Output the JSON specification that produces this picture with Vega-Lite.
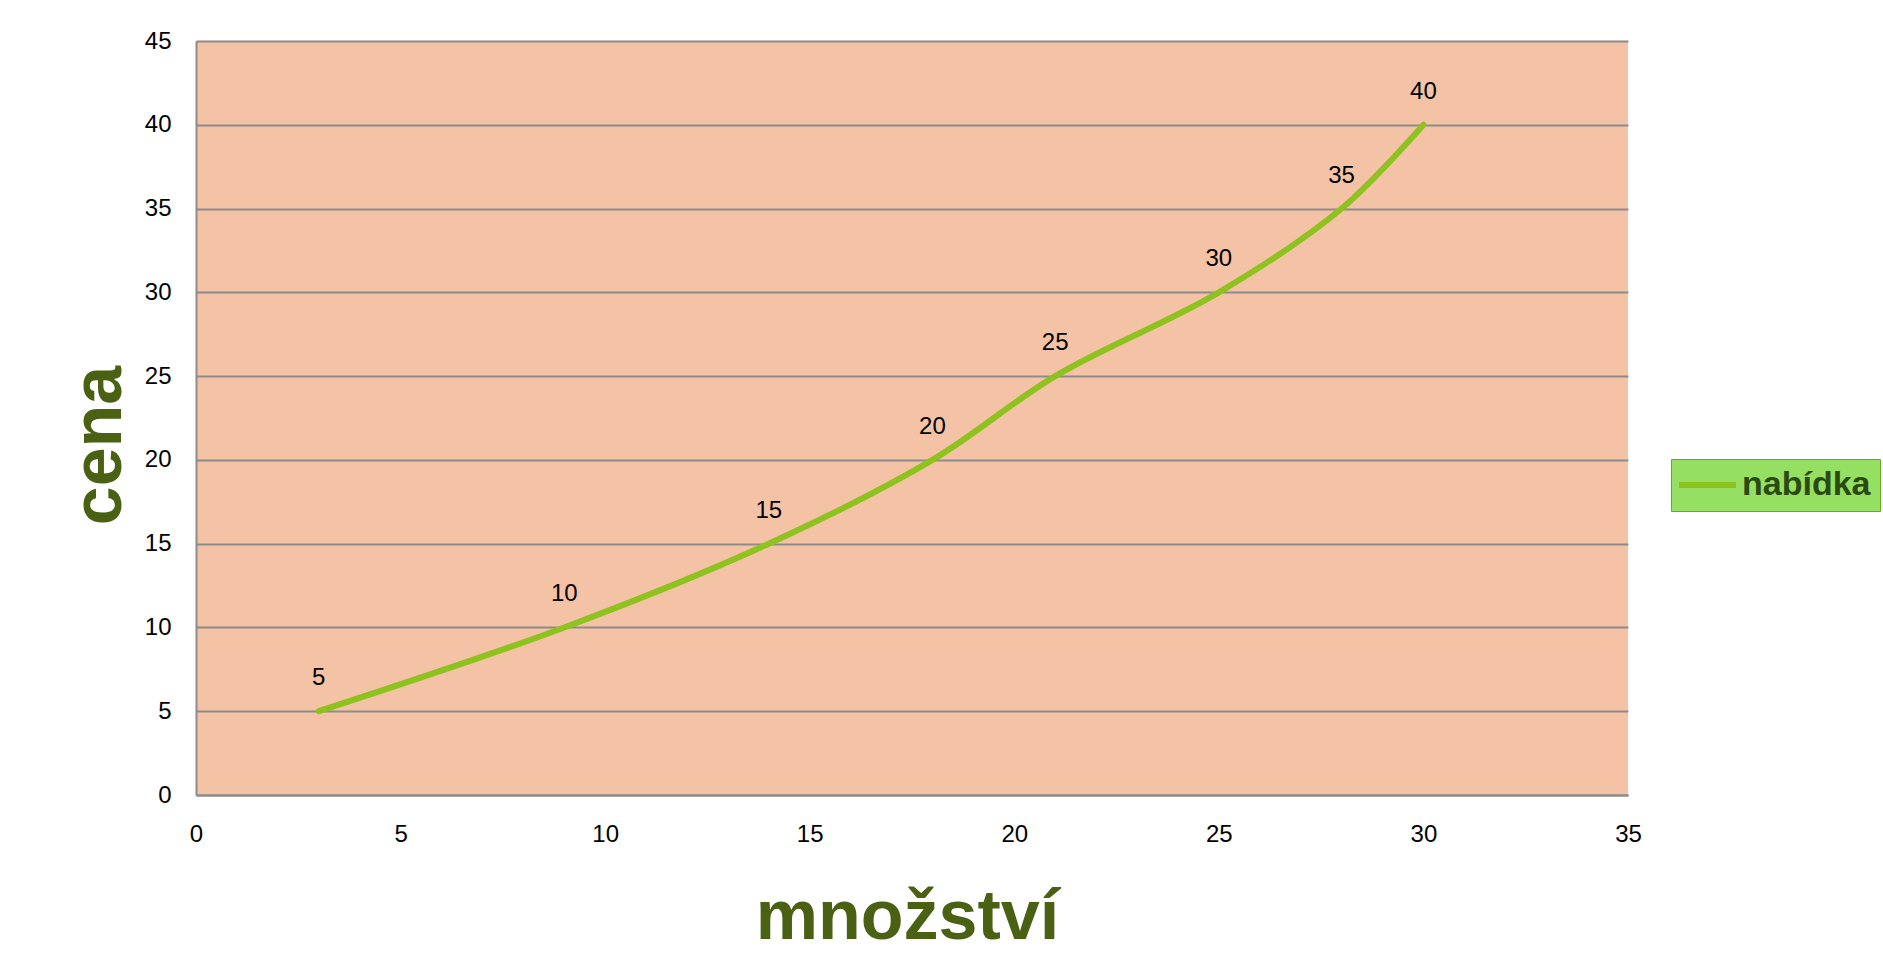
{
  "$schema": "https://vega.github.io/schema/vega-lite/v6.json",
  "autosize": {"type": "none"},
  "width": 1432,
  "height": 754,
  "padding": {"left": 196, "top": 41, "right": 255, "bottom": 177},
  "background": "#ffffff",
  "config": {
    "view": {"fill": "#f4c2a4", "stroke": null},
    "font": "Liberation Sans"
  },
  "data": {
    "values": [
      {"mnozstvi": 3, "cena": 5, "serie": "nabídka"},
      {"mnozstvi": 9, "cena": 10, "serie": "nabídka"},
      {"mnozstvi": 14, "cena": 15, "serie": "nabídka"},
      {"mnozstvi": 18, "cena": 20, "serie": "nabídka"},
      {"mnozstvi": 21, "cena": 25, "serie": "nabídka"},
      {"mnozstvi": 25, "cena": 30, "serie": "nabídka"},
      {"mnozstvi": 28, "cena": 35, "serie": "nabídka"},
      {"mnozstvi": 30, "cena": 40, "serie": "nabídka"}
    ]
  },
  "encoding": {
    "x": {
      "field": "mnozstvi", "type": "quantitative",
      "scale": {"domain": [0, 35], "nice": false, "zero": true},
      "axis": {
        "title": "množství", "values": [0, 5, 10, 15, 20, 25, 30, 35],
        "grid": false, "ticks": false, "domain": true, "domainColor": "#8c8c8c", "domainWidth": 2,
        "labelFont": "Liberation Sans", "labelFontSize": 24, "labelColor": "#000000", "labelPadding": 27,
        "labelBaseline": "top", "labelFlush": false,
        "titleFont": "Liberation Sans", "titleFontSize": 70, "titleFontWeight": "bold", "titleColor": "#4a6114",
        "titleBaseline": "alphabetic", "titleY": 143, "titleX": 711, "titleAlign": "center"
      }
    },
    "y": {
      "field": "cena", "type": "quantitative",
      "scale": {"domain": [0, 45], "nice": false},
      "axis": {
        "title": "cena", "values": [0, 5, 10, 15, 20, 25, 30, 35, 40, 45],
        "grid": true, "gridColor": "#8c8c8c", "gridWidth": 2, "gridOpacity": 1,
        "ticks": false, "domain": true, "domainColor": "#8c8c8c", "domainWidth": 2,
        "labelFont": "Liberation Sans", "labelFontSize": 24, "labelColor": "#000000", "labelPadding": 25,
        "labelFlush": false,
        "titleFont": "Liberation Sans", "titleFontSize": 70, "titleFontWeight": "bold", "titleColor": "#4a6114",
        "titleAngle": 270, "titleBaseline": "alphabetic", "titleAlign": "center", "titleX": -76, "titleY": 404
      }
    }
  },
  "layer": [
    {
      "mark": {"type": "line", "interpolate": "catmull-rom", "strokeWidth": 6, "strokeCap": "round"},
      "encoding": {
        "color": {
          "field": "serie", "type": "nominal",
          "scale": {"range": ["#8dc21f"]},
          "legend": {
            "title": null, "orient": "none", "legendX": 1475, "legendY": 418,
            "fillColor": "#95e063", "strokeColor": "#6aa82a", "padding": 9,
            "symbolType": "M-2.57,0H5.57", "symbolSize": 196, "symbolStrokeWidth": 6,
            "symbolStrokeColor": "#8dc21f", "symbolFillColor": "transparent", "symbolOffset": 0,
            "labelFont": "Liberation Sans", "labelFontSize": 34, "labelFontWeight": "bold", "labelColor": "#2b4a10",
            "labelOffset": 28, "rowPadding": 0
          }
        }
      }
    },
    {
      "mark": {"type": "text", "dy": -33, "fontSize": 24, "font": "Liberation Sans", "color": "#000000", "baseline": "middle"},
      "encoding": {"text": {"field": "cena", "type": "quantitative"}}
    }
  ]
}
